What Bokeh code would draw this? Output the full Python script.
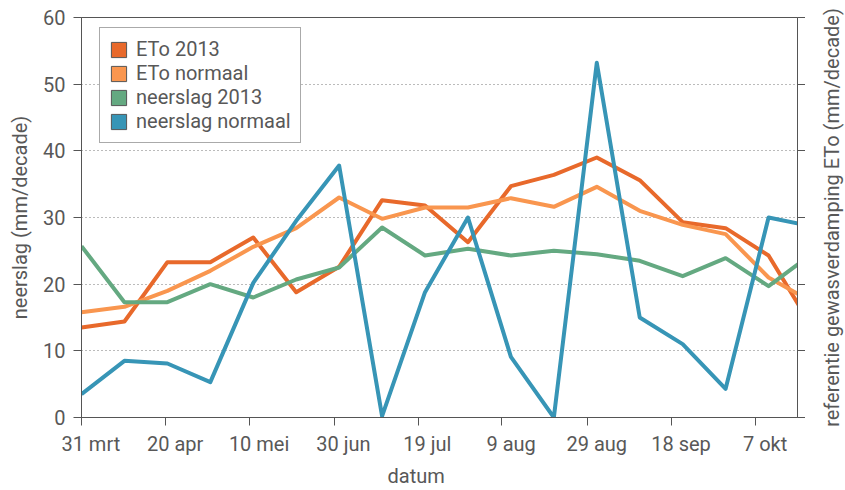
from bokeh.plotting import figure
from bokeh.layouts import row
from bokeh.models import (FixedTicker, LinearAxis, Range1d, Legend, LegendItem,
                          Title, ColumnDataSource)
from bokeh.embed import file_html
from bokeh.resources import INLINE

# ---- data -------------------------------------------------------------
decade = list(range(18))
eto_2013 = [13.5, 14.4, 23.3, 23.3, 27.0, 18.8, 22.6, 32.6, 31.8, 26.3, 34.7,
            36.4, 39.0, 35.6, 29.3, 28.4, 24.3, 13.7]
eto_normaal = [15.8, 16.6, 19.0, 22.0, 25.6, 28.4, 33.0, 29.8, 31.5, 31.5, 32.9,
               31.6, 34.6, 31.0, 28.9, 27.5, 21.0, 17.4]
neerslag_2013 = [25.7, 17.3, 17.3, 20.0, 18.0, 20.7, 22.5, 28.5, 24.3, 25.3, 24.3,
                 25.0, 24.5, 23.5, 21.2, 23.9, 19.7, 24.5]
neerslag_normaal = [3.5, 8.5, 8.1, 5.3, 20.2, 29.5, 37.8, 0.2, 18.8, 30.0, 9.1,
                    0.0, 53.2, 15.0, 11.0, 4.3, 30.0, 28.7]

series_names = ["ETo 2013", "ETo normaal", "neerslag 2013", "neerslag normaal"]
series_values = [eto_2013, eto_normaal, neerslag_2013, neerslag_normaal]
series_colors = ["#E8692B", "#F9964F", "#64A981", "#3795B6"]

x_tick_labels = ["31 mrt", "20 apr", "10 mei", "30 jun", "19 jul", "9 aug",
                 "29 aug", "18 sep", "7 okt"]
x_tick_pos = [0.0, 1.963, 3.919, 5.882, 7.838, 9.788, 11.783, 13.744, 15.703]
label_shift = 0.217
y_ticks = [0, 10, 20, 30, 40, 50, 60]

left_title = "neerslag (mm/decade)"
right_title = "referentie gewasverdamping ETo (mm/decade)"
x_title = "datum"

FONT = "Roboto"
TXT = "#585858"
AX = "#555555"


def title_strip(width, border_left, standoff, text):
    """A narrow figure whose only visible content is a vertical axis title."""
    f = figure(width=width, height=490, output_backend="svg",
               toolbar_location=None, x_range=Range1d(0, 1),
               y_range=Range1d(0, 60), min_border_left=border_left,
               min_border_right=0, min_border_top=17, min_border_bottom=73)
    f.outline_line_color = None
    f.background_fill_color = "white"
    f.border_fill_color = "white"
    f.xaxis.visible = False
    f.grid.visible = False
    a = f.yaxis[0]
    a.ticker = FixedTicker(ticks=[])
    a.axis_line_color = None
    a.major_tick_line_color = None
    a.minor_tick_line_color = None
    a.major_tick_out = 0
    a.major_tick_in = 0
    a.major_label_standoff = 0
    a.axis_label = text
    a.axis_label_standoff = standoff
    a.axis_label_text_font = FONT
    a.axis_label_text_font_size = "20px"
    a.axis_label_text_font_style = "normal"
    a.axis_label_text_color = TXT
    return f


# ---- main figure ------------------------------------------------------
p = figure(width=769, height=490, output_backend="svg", toolbar_location=None,
           x_range=Range1d(0, 16.674), y_range=Range1d(0, 60),
           min_border_left=45, min_border_right=8, min_border_top=17,
           min_border_bottom=73)
p.background_fill_color = "white"
p.border_fill_color = "white"
p.outline_line_color = AX
p.outline_line_width = 1

# x axis: tick marks (minor) at the tick positions, labels slightly right
lab_pos = [round(t + label_shift, 3) for t in x_tick_pos]
xa = p.xaxis[0]
xa.ticker = FixedTicker(ticks=lab_pos, minor_ticks=x_tick_pos)
xa.major_label_overrides = {lp: lab for lp, lab in zip(lab_pos, x_tick_labels)}
xa.major_tick_line_color = None
xa.major_tick_out = 8
xa.major_tick_in = 0
xa.minor_tick_out = 8
xa.minor_tick_in = 0
xa.minor_tick_line_color = AX
xa.axis_line_color = AX
xa.major_label_standoff = 6

ya = p.yaxis[0]
ya.ticker = FixedTicker(ticks=y_ticks)
ya.major_tick_out = 8
ya.major_tick_in = 0
ya.minor_tick_line_color = None
ya.major_tick_line_color = AX
ya.axis_line_color = AX
ya.major_label_standoff = 8

# right axis: tick marks only (drawn as minor ticks)
ra = LinearAxis(ticker=FixedTicker(ticks=[], minor_ticks=y_ticks))
ra.major_tick_line_color = None
ra.major_tick_out = 0
ra.minor_tick_out = 8
ra.minor_tick_in = 0
ra.minor_tick_line_color = AX
ra.axis_line_color = AX
ra.major_label_standoff = 0
p.add_layout(ra, "right")

for ax in (xa, ya):
    ax.major_label_text_font = FONT
    ax.major_label_text_font_size = "20px"
    ax.major_label_text_color = TXT

p.xgrid.visible = False
p.ygrid.ticker = FixedTicker(ticks=[10, 20, 30, 40, 50])
p.ygrid.grid_line_color = "#777777"
p.ygrid.grid_line_dash = "1 3"
p.ygrid.grid_line_width = 1

# ---- lines ------------------------------------------------------------
for vals, col in zip(series_values, series_colors):
    p.line(decade, vals, line_width=4, line_color=col, line_join="round")

# ---- legend with filled square swatches -------------------------------
nan = float("nan")
items = []
for name, col in zip(series_names, series_colors):
    r = p.quad(left="l", right="r", bottom="b", top="t",
               source=ColumnDataSource(dict(l=[nan], r=[nan], b=[nan], t=[nan])),
               fill_color=col, line_color=AX, line_width=1)
    items.append(LegendItem(label=name, renderers=[r]))

legend = Legend(items=items, location=(18, 274), orientation="vertical",
                glyph_width=19, glyph_height=19, label_height=19,
                label_standoff=8, spacing=0, padding=9, margin=0,
                border_line_color=AX, border_line_width=1,
                background_fill_color="white", background_fill_alpha=1,
                label_text_font=FONT, label_text_font_size="20px",
                label_text_color=TXT)
p.add_layout(legend)

# ---- x axis title -------------------------------------------------------
p.add_layout(Title(text=x_title, align="left", offset=306, standoff=6,
                   text_font=FONT, text_font_size="20px",
                   text_font_style="normal", text_color=TXT), "below")

# ---- side strips carrying the vertical titles ---------------------------
p_left = title_strip(36, 34, 3, left_title)
p_right = title_strip(40, 38, 0, right_title)

layout = row(p_left, p, p_right, spacing=0)
open("out.html", "w").write(file_html(layout, INLINE))
